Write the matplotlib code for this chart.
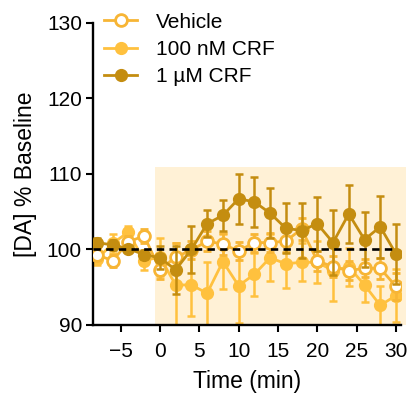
import numpy as np
import matplotlib
matplotlib.use('Agg')
import matplotlib.pyplot as plt
from matplotlib.lines import Line2D
from matplotlib.patches import Rectangle

plt.rcParams['font.family'] = ['Liberation Sans', 'DejaVu Sans']

#####################################
time_min = np.arange(-8, 31, 2)

vehicle = [99.3, 98.5, 101.0, 101.8, 97.3, 99.0, 99.9, 101.1, 100.7, 99.8,
           100.9, 100.9, 101.1, 102.7, 98.5, 97.7, 97.2, 97.5, 97.5, 95.1]
vehicle_err = [0.7, 0.8, 0.8, 0.9, 1.2, 1.8, 1.2, 1.3, 1.5, 1.2,
               1.2, 1.3, 1.4, 1.5, 1.3, 1.4, 1.3, 1.2, 1.4, 1.8]

crf_100 = [98.7, 100.8, 102.3, 98.5, 99.0, 95.3, 95.3, 94.2, 98.4, 95.2,
           96.7, 98.9, 98.1, 98.3, 98.3, 97.2, 97.7, 95.3, 92.6, 93.9]
crf_100_err = [0.8, 1.3, 0.8, 1.2, 2.5, 5.5, 4.1, 4.2, 3.7, 5.0,
               2.8, 3.1, 3.2, 2.5, 2.8, 4.0, 2.5, 2.3, 2.6, 3.5]

crf_1 = [100.9, 100.6, 100.1, 99.3, 98.9, 97.3, 100.0, 103.4, 104.5, 106.7,
         106.3, 104.8, 102.8, 102.5, 103.4, 100.9, 104.7, 101.3, 103.0, 99.4]
crf_1_err = [0.6, 0.7, 0.4, 0.6, 1.5, 3.2, 3.1, 1.8, 2.0, 3.3,
             3.3, 3.3, 3.3, 3.7, 3.6, 4.3, 3.8, 3.6, 4.1, 4.0]

labels = ['Vehicle', '100 nM CRF', '1 µM CRF']
#####################################

C_VEH = '#F7B535'
C_100 = '#FFC13E'
C_1 = '#C48D10'

fig = plt.figure(figsize=(4.13, 4.01), dpi=100)
ax = fig.add_axes([93/413, 1-325/401, (400.7-93)/413, (325-22.7)/401])

# drug application period
ax.add_patch(Rectangle((-0.6, 90), 31.9, 20.9, facecolor='#FFF1D6',
                       edgecolor='none', zorder=0, clip_on=False))

style = dict(lw=2.0, ms=8.5, capsize=3, elinewidth=1.8, capthick=1.8)
ax.errorbar(time_min, crf_100, yerr=crf_100_err, color=C_100, marker='o',
            mfc=C_100, mec=C_100, zorder=2, **style)
ax.errorbar(time_min, vehicle, yerr=vehicle_err, color=C_VEH, marker='o',
            mfc='white', mec=C_VEH, mew=2.0, zorder=3, **style)
ax.errorbar(time_min, crf_1, yerr=crf_1_err, color=C_1, marker='o',
            mfc=C_1, mec=C_1, zorder=4, **style)

ax.plot([-8.5, 29.6], [100, 100], color='black', lw=1.9,
        dashes=(2.8, 2.0), zorder=5)

ax.set_xlim(-8.5, 30.6)
ax.set_ylim(90, 130)
ax.set_xticks([-5, 0, 5, 10, 15, 20, 25, 30])
ax.set_yticks([90, 100, 110, 120, 130])
for s in ['top', 'right']:
    ax.spines[s].set_visible(False)
for s in ['left', 'bottom']:
    ax.spines[s].set_linewidth(1.7)
ax.tick_params(width=1.5, length=5, labelsize=15)
ax.tick_params(axis='x', pad=7)
ax.tick_params(axis='y', pad=3)
ax.set_xlabel('Time (min)', fontsize=16.5, labelpad=7)
ax.set_ylabel('[DA] % Baseline', fontsize=16.5, labelpad=7)

handles = [
    Line2D([], [], color=C_VEH, marker='o', mfc='white', mec=C_VEH, mew=2.0, lw=2.0, ms=8.5),
    Line2D([], [], color=C_100, marker='o', mfc=C_100, mec=C_100, lw=2.0, ms=8.5),
    Line2D([], [], color=C_1, marker='o', mfc=C_1, mec=C_1, lw=2.0, ms=8.5),
]
fig.legend(handles, labels, loc='upper left', bbox_to_anchor=(104/413, 1-12.5/401),
           frameon=False, fontsize=15, handlelength=1.6, handletextpad=0.9,
           borderpad=0, borderaxespad=0, labelspacing=0.4)

fig.savefig('out.png', dpi=100)
